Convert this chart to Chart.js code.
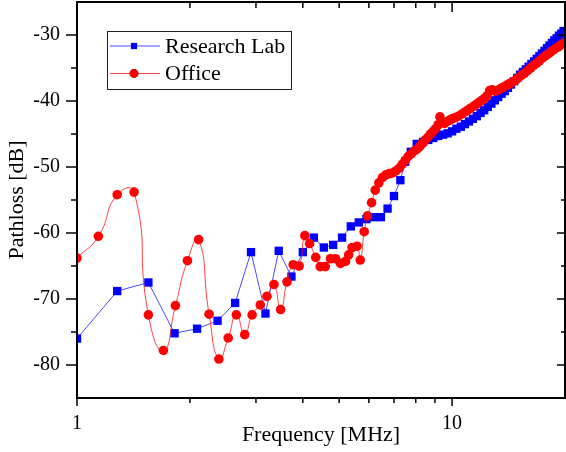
<!DOCTYPE html>
<html>
<head>
<meta charset="utf-8">
<script src="https://cdn.jsdelivr.net/npm/chart.js@4.4.0/dist/chart.umd.min.js"></script>
<style>
  html, body { margin: 0; padding: 0; background: #fff; overflow: hidden; }
  #wrap { width: 566px; height: 452px; position: relative; }
</style>
</head>
<body>
<div id="wrap"><canvas id="plot"></canvas></div>
<script>
// Research Lab series (frequency in MHz, path loss in dB)
const labFreq = [
  1.00, 1.28, 1.55, 1.82, 2.09, 2.37, 2.64, 2.91, 3.18, 3.45,
  3.73, 4.00, 4.28, 4.55, 4.82, 5.09, 5.37, 5.64, 5.91, 6.19,
  6.46, 6.73, 7.00, 7.28, 7.50, 7.76, 8.05, 8.37, 8.64, 8.91,
  9.18, 9.46, 9.73, 10.0, 10.27, 10.55, 10.82, 11.09, 11.36, 11.64,
  11.91, 12.18, 12.45, 12.73, 13.00, 13.27, 13.55, 13.82, 14.09, 14.36,
  14.64, 14.91, 15.18, 15.45, 15.73, 16.00, 16.27, 16.55, 16.82, 17.09,
  17.36, 17.64, 17.91, 18.18, 18.45, 18.73, 19.00, 19.27, 19.55, 19.82
];
const labLoss = [
  -76.0, -68.8, -67.5, -75.2, -74.5, -73.3, -70.6, -62.9, -72.2, -62.7,
  -66.6, -62.9, -60.7, -62.2, -61.8, -60.7, -59.0, -58.4, -57.9, -57.6,
  -57.6, -56.3, -54.4, -52.0, -49.2, -47.7, -46.5, -46.2, -45.9, -45.6,
  -45.3, -45.1, -44.9, -44.6, -44.2, -43.9, -43.5, -43.1, -42.7, -42.3,
  -41.8, -41.4, -40.9, -40.4, -39.9, -39.4, -38.9, -38.5, -38.0, -37.5,
  -37.0, -36.5, -36.0, -35.6, -35.2, -34.8, -34.4, -34.0, -33.6, -33.2,
  -32.8, -32.4, -32.0, -31.6, -31.2, -30.8, -30.5, -30.1, -29.8, -29.4
];

// Office series
const officeFreq = [
  1.00, 1.14, 1.28, 1.42, 1.55, 1.70, 1.83, 1.97, 2.11, 2.25,
  2.39, 2.53, 2.66, 2.80, 2.93, 3.08, 3.21, 3.35, 3.49, 3.63,
  3.77, 3.91, 4.05, 4.17, 4.33, 4.45, 4.59, 4.74, 4.89, 5.04,
  5.20, 5.30, 5.41, 5.58, 5.69, 5.83, 5.95, 6.10, 6.24, 6.38,
  6.52, 6.66, 6.80, 6.94, 7.08, 7.22, 7.36, 7.50, 7.64, 7.78,
  7.92, 8.06, 8.20, 8.34, 8.48, 8.62, 8.76, 8.90, 9.04, 9.18,
  9.28, 9.40, 9.55, 9.70, 9.85, 10.0, 10.2, 10.4, 10.6, 10.8,
  11.0, 11.2, 11.4, 11.6, 11.8, 12.0, 12.2, 12.4, 12.6, 12.8,
  13.0, 13.2, 13.4, 13.6, 13.8, 14.0, 14.2, 14.4, 14.6, 14.8,
  15.0, 15.3, 15.6, 15.9, 16.2, 16.5, 16.8, 17.1, 17.4, 17.7,
  18.0, 18.3, 18.6, 18.9, 19.2, 19.5, 19.8, 20.0
];
const officeLoss = [
  -63.8, -60.5, -54.2, -53.8, -72.4, -77.8, -71.0, -64.2, -61.0, -72.3,
  -79.1, -75.9, -72.4, -75.4, -72.4, -70.9, -69.6, -67.8, -71.6, -67.4,
  -64.8, -65.0, -60.4, -61.6, -63.7, -65.1, -65.1, -63.9, -63.9, -64.6,
  -64.3, -63.3, -62.2, -62.0, -64.1, -59.8, -57.4, -55.4, -53.5, -52.4,
  -51.6, -51.2, -51.0, -50.9, -50.6, -50.2, -49.6, -49.0, -48.4, -48.0,
  -47.6, -47.3, -46.9, -46.4, -45.9, -45.5, -45.0, -44.6, -44.2, -43.6,
  -42.4, -43.2, -43.4, -43.1, -42.9, -42.7, -42.5, -42.3, -42.0, -41.7,
  -41.4, -41.1, -40.8, -40.5, -40.2, -39.9, -39.6, -39.2, -38.4, -38.3,
  -38.5, -38.4, -38.2, -38.0, -37.8, -37.6, -37.4, -37.2, -37.0, -36.8,
  -36.5, -36.1, -35.8, -35.4, -35.0, -34.6, -34.3, -33.9, -33.5, -33.2,
  -32.9, -32.6, -32.3, -32.0, -31.8, -31.5, -31.3, -31.1
];

// axis ticks
const xMajorTicks = [1, 10];
const xMinorTicks = [2, 3, 4, 5, 6, 7, 8, 9];
const yMajorTicks = [-80, -70, -60, -50, -40, -30];
const yMinorTicks = [-75, -65, -55, -45, -35];

const serif = '"Liberation Serif", "Times New Roman", serif';

function toPoints(xs, ys) {
  return xs.map((f, i) => ({ x: f, y: ys[i] }));
}

// frame box with tick marks: outward on left/bottom, inward on top/right
const frameTicks = {
  id: 'frameTicks',
  afterDatasetsDraw(chart) {
    const { ctx, chartArea: a, scales: { x, y } } = chart;
    const seg = (x1, y1, x2, y2) => {
      ctx.beginPath(); ctx.moveTo(x1, y1); ctx.lineTo(x2, y2); ctx.stroke();
    };
    ctx.save();
    ctx.strokeStyle = '#000';
    ctx.lineWidth = 1.5;
    xMajorTicks.concat(xMinorTicks).forEach(v => {
      const major = xMajorTicks.includes(v);
      const px = x.getPixelForValue(v);
      seg(px, a.bottom, px, a.bottom + (major ? 8 : 5));
      seg(px, a.top, px, a.top + (major ? 10 : 6));
    });
    yMajorTicks.concat(yMinorTicks).forEach(v => {
      const major = yMajorTicks.includes(v);
      const py = y.getPixelForValue(v);
      seg(a.left - (major ? 11 : 6), py, a.left, py);
      seg(a.right - (major ? 8 : 4), py, a.right, py);
    });
    ctx.lineWidth = 2;
    ctx.strokeRect(a.left, a.top, a.right - a.left, a.bottom - a.top);
    ctx.restore();
  }
};

// legend box inside the plot
const insideLegend = {
  id: 'insideLegend',
  afterDraw(chart) {
    const ctx = chart.ctx;
    const bx = 107, by = 31, bw = 184, bh = 58;
    ctx.save();
    ctx.fillStyle = '#fff';
    ctx.fillRect(bx, by, bw, bh);
    ctx.strokeStyle = '#222';
    ctx.lineWidth = 1;
    ctx.strokeRect(bx + 0.5, by + 0.5, bw, bh);
    chart.data.datasets.forEach((ds, i) => {
      const cy = by + 15 + i * 27.5;
      ctx.strokeStyle = ds.borderColor;
      ctx.lineWidth = 1;
      ctx.beginPath(); ctx.moveTo(110, cy); ctx.lineTo(160, cy); ctx.stroke();
      Chart.helpers.drawPoint(ctx, {
        pointStyle: ds.pointStyle, radius: 4.4, rotation: 0, borderWidth: 0
      }, 134, cy);
      ctx.fillStyle = ds.pointBackgroundColor;
      ctx.fill();
      ctx.fillStyle = '#000';
      ctx.font = '22px ' + serif;
      ctx.textBaseline = 'middle';
      ctx.textAlign = 'left';
      ctx.fillText(ds.label, 165, cy + 1);
    });
    ctx.restore();
  }
};

new Chart(document.getElementById('plot'), {
  type: 'line',
  data: {
    datasets: [
      {
        label: 'Research Lab',
        data: toPoints(labFreq, labLoss),
        borderColor: 'rgba(30,30,255,0.8)',
        borderWidth: 1,
        pointStyle: 'rect',
        pointRadius: 5.9,
        pointBorderWidth: 0,
        pointBackgroundColor: '#0000ff',
        backgroundColor: '#0000ff',
        tension: 0,
        clip: 0,
        order: 1
      },
      {
        label: 'Office',
        data: toPoints(officeFreq, officeLoss),
        borderColor: 'rgba(255,20,20,0.8)',
        borderWidth: 1,
        pointStyle: 'circle',
        pointRadius: 4.8,
        pointBorderWidth: 0,
        pointBackgroundColor: '#ff0000',
        backgroundColor: '#ff0000',
        tension: 0.55,
        clip: 0,
        order: 0
      }
    ]
  },
  options: {
    responsive: true,
    maintainAspectRatio: false,
    animation: false,
    layout: { autoPadding: false, padding: { top: 2, right: 1, left: 0, bottom: 0 } },
    plugins: { legend: { display: false }, tooltip: { enabled: false } },
    scales: {
      x: {
        type: 'logarithmic',
        min: 1,
        max: 20,
        afterBuildTicks: s => { s.ticks = xMajorTicks.map(v => ({ value: v })); },
        afterFit: s => {
          s.height = 54;
          s.paddingLeft = 0; s.paddingRight = 0;
        },
        grid: { display: false, drawTicks: false },
        border: { display: false },
        ticks: {
          autoSkip: false, maxRotation: 0, padding: 14, color: '#000',
          font: { family: serif, size: 20 },
          callback: v => String(v)
        },
        title: {
          display: true, text: 'Frequency [MHz]', color: '#000',
          font: { family: serif, size: 22 }, padding: { top: 0, bottom: 4 }
        }
      },
      y: {
        min: -85,
        max: -25,
        afterBuildTicks: s => { s.ticks = yMajorTicks.map(v => ({ value: v })); },
        afterFit: s => {
          s.width = 77;
          s.paddingTop = 0; s.paddingBottom = 0;
        },
        grid: { display: false, drawTicks: false },
        border: { display: false },
        ticks: {
          padding: 17, color: '#000',
          font: { family: serif, size: 20 }
        },
        title: {
          display: true, text: 'Pathloss [dB]', color: '#000',
          font: { family: serif, size: 22 }, padding: { top: 4, bottom: 0 }
        }
      }
    }
  },
  plugins: [frameTicks, insideLegend]
});
</script>
</body>
</html>
